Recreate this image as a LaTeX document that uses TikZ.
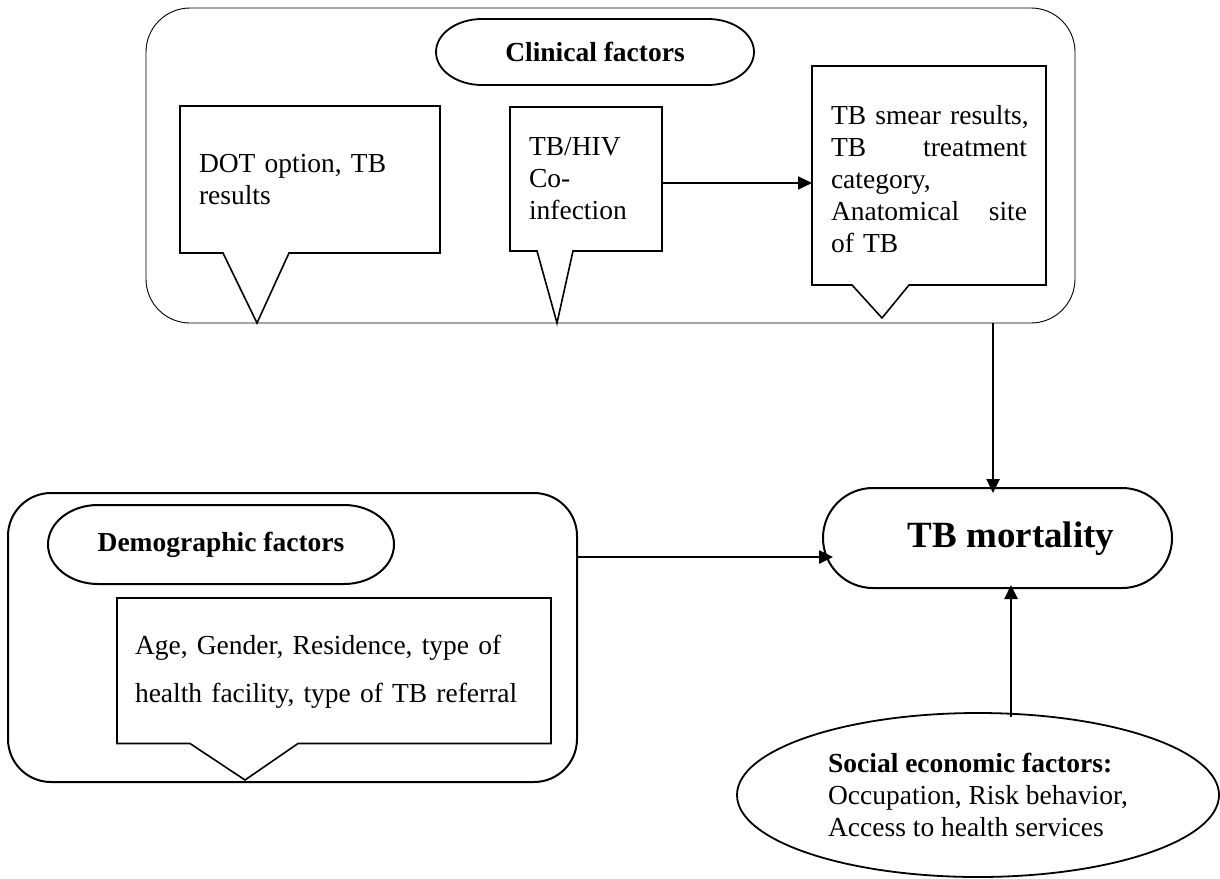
\documentclass[tikz,border=0pt]{standalone}
\usepackage{fontspec}
\setmainfont{Liberation Serif}
\usetikzlibrary{arrows.meta,shapes.geometric}
\newcommand\fsz{\fontsize{27.5}{32}\selectfont}
\newcommand\pillpath[4]{% node, rx, ry, line width
  \draw[line width=#4] ([xshift=#2]#1.north west) -- ([xshift=-#2]#1.north east)
    arc[start angle=90, end angle=-90, x radius=#2, y radius=#3]
    -- ([xshift=#2]#1.south west)
    arc[start angle=270, end angle=90, x radius=#2, y radius=#3] -- cycle;}
\begin{document}
\begin{tikzpicture}[x=1pt,y=-1pt,
  outerbox/.style={draw, inner sep=0pt, outer sep=0pt},
  pill/.style={inner sep=0pt, outer sep=0pt, font=\fsz\bfseries},
  callout/.style={inner xsep=19pt, inner ysep=0pt, outer sep=0pt, align=left, font=\fsz},
  cline/.style={line width=1.6pt, line join=miter},
  arr/.style={line width=2.5pt, -{Triangle[length=14pt,width=13pt]}}
]
\useasboundingbox (0,0) rectangle (1220,878);

% clinical group
\node[outerbox, line width=0.9pt, rounded corners=44pt, minimum width=929pt, minimum height=315pt] (clin) at (610.5,165.5) {};
\node[pill, minimum width=318pt, minimum height=66pt] (clinpill) at (595,52) {Clinical factors};
\pillpath{clinpill}{46pt}{33pt}{1.8pt}

\node[callout, text width=222pt, minimum height=147pt] (dot) at (310,179.5) {DOT option, TB\\results};
\coordinate (dottip) at (257,323);
\draw[cline] (dot.north west) -- (dot.north east) -- (dot.south east) -- ([xshift=109pt]dot.south west) -- (dottip) -- ([xshift=43pt]dot.south west) -- (dot.south west) -- cycle;

\node[callout, text width=114pt, minimum height=144pt] (hiv) at (586,179) {TB/HIV\\Co-\\infection};
\coordinate (hivtip) at (557,323);
\draw[cline] (hiv.north west) -- (hiv.north east) -- (hiv.south east) -- ([xshift=63pt]hiv.south west) -- (hivtip) -- ([xshift=27pt]hiv.south west) -- (hiv.south west) -- cycle;

\node[callout, text width=196pt, minimum height=219pt] (smear) at (929,175.5) {\rule{0pt}{26pt}\makebox[196pt][s]{TB smear results,}\\\makebox[196pt][l]{TB\hfill treatment}\\category,\\\makebox[196pt][l]{Anatomical\hfill site}\\of TB};
\coordinate (smeartip) at (882,318);
\draw[cline] (smear.north west) -- (smear.north east) -- (smear.south east) -- ([xshift=97pt]smear.south west) -- (smeartip) -- ([xshift=40pt]smear.south west) -- (smear.south west) -- cycle;

% demographic group
\node[outerbox, line width=2pt, rounded corners=43pt, minimum width=569pt, minimum height=289pt] (demo) at (292.5,637.5) {};
\node[pill, minimum width=346pt, minimum height=79pt] (demopill) at (221,544.5) {Demographic factors};
\pillpath{demopill}{50pt}{39.5pt}{2pt}

\node[callout, inner xsep=18pt, text width=398pt, minimum height=143pt, font=\fontsize{27.5}{48}\selectfont] (age) at (334,672) {Age, Gender, Residence, type of\\health facility, type of TB referral};
\coordinate (agetip) at (245,780);
\draw[cline] ([yshift=2.5pt]age.north west) -- ([yshift=2.5pt]age.north east) -- (age.south east) -- ([xshift=181pt]age.south west) -- (agetip) -- ([xshift=73pt]age.south west) -- (age.south west) -- cycle;

% outcome
\node[draw, line width=2pt, rounded corners=49.9pt, inner sep=0pt, outer sep=0pt, minimum width=349pt, minimum height=100pt] (tbm) at (997.5,538) {};
\node[font=\fontsize{37}{40}\selectfont\bfseries, inner sep=0pt] (tbmtext) at (1011,539) {TB mortality};

% social economic
\node[draw, ellipse, line width=1.8pt, inner sep=0pt, outer sep=0pt, minimum width=482pt, minimum height=164pt, align=left, font=\fsz] (soc) at (978,795) {\textbf{Social economic factors:}\\Occupation, Risk behavior,\\Access to health services};

% connectors
\draw[arr, line width=2pt] ([yshift=-4pt]hiv.east) coordinate (h1) -- (h1 -| smear.west);
\coordinate (a1) at ([xshift=-4.5pt]tbm.north);
\draw[arr, shorten >=-5pt] (a1 |- clin.south) -- (a1);
\draw[arr, shorten >=-10pt] ([yshift=80.5pt]demo.east) coordinate (d1) -- (d1 -| tbm.west);
\coordinate (a2) at ([xshift=13.5pt]tbm.south);
\draw[arr, shorten >=-3pt] ([yshift=-4pt]a2 |- soc.north) -- (a2);
\end{tikzpicture}
\end{document}
